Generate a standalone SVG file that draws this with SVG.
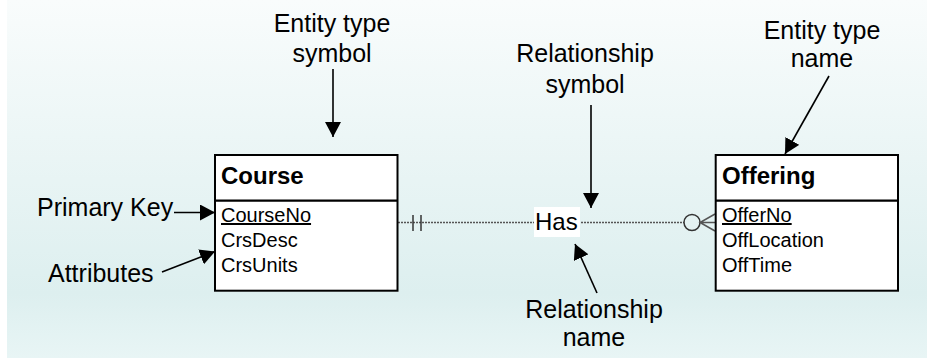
<svg xmlns="http://www.w3.org/2000/svg" width="927" height="358" viewBox="0 0 927 358">
<defs>
<linearGradient id="bg" x1="0" y1="0" x2="0" y2="1">
<stop offset="0" stop-color="#f9fcfc"/>
<stop offset="0.82" stop-color="#ddefef"/>
<stop offset="1" stop-color="#e8f5f5"/>
</linearGradient>
<marker id="ah" viewBox="0 0 16 16" refX="15" refY="8" markerWidth="16" markerHeight="16" markerUnits="userSpaceOnUse" orient="auto">
<path d="M0,0 L15,8 L0,16 Z" fill="#000"/>
</marker>
<style>
text{font-family:"Liberation Sans",Arial,sans-serif;fill:#000}
.lbl{font-size:25px;text-anchor:middle}
.ll{font-size:25px}
.has{font-size:24px}
.title{font-size:24px;font-weight:bold}
.attr{font-size:20px}
.box{fill:#fff;stroke:#000;stroke-width:2}
.div{stroke:#000;stroke-width:2.2}
.arr{stroke:#000;stroke-width:1.6;fill:none;marker-end:url(#ah)}
</style>
</defs>
<rect x="0" y="0" width="927" height="358" fill="#fff"/>
<rect x="7" y="0" width="920" height="358" fill="url(#bg)"/>

<g id="connectors">
<line x1="398" y1="222.5" x2="684" y2="222.5" stroke="#555" stroke-width="1.5" stroke-dasharray="2,1"/>
<line x1="413" y1="215" x2="413" y2="231" stroke="#333" stroke-width="1.5"/>
<line x1="421" y1="215" x2="421" y2="231" stroke="#333" stroke-width="1.5"/>
<circle cx="692" cy="222.5" r="8" fill="none" stroke="#333" stroke-width="1.5"/>
<path d="M715,214 L700,222.5 L715,231 M700,222.5 L715,222.5" fill="none" stroke="#555" stroke-width="1.5"/>
</g>

<g id="course">
<rect class="box" x="215" y="155" width="182.5" height="135.7"/>
<line class="div" x1="215" y1="200.7" x2="397.5" y2="200.7"/>
<text class="title" x="221" y="184">Course</text>
<text class="attr" x="221" y="222" text-decoration="underline">CourseNo</text>
<text class="attr" x="221" y="247">CrsDesc</text>
<text class="attr" x="221" y="272">CrsUnits</text>
</g>

<g id="offering">
<rect class="box" x="715.7" y="155" width="182.3" height="135.7"/>
<line class="div" x1="715.7" y1="200.7" x2="898" y2="200.7"/>
<text class="title" x="722" y="184">Offering</text>
<text class="attr" x="722" y="222" text-decoration="underline">OfferNo</text>
<text class="attr" x="722" y="247">OffLocation</text>
<text class="attr" x="722" y="272">OffTime</text>
</g>

<g id="has">
<rect x="534" y="207" width="46" height="30" fill="#fff"/>
<text class="has" x="535" y="230">Has</text>
</g>

<g id="label-entity-type-symbol">
<text class="lbl" x="332" y="31.5">Entity type</text>
<text class="lbl" x="332" y="61.5">symbol</text>
<line class="arr" x1="333" y1="69" x2="333" y2="137"/>
</g>

<g id="label-relationship-symbol">
<text class="lbl" x="585" y="62">Relationship</text>
<text class="lbl" x="585" y="93">symbol</text>
<line class="arr" x1="591" y1="105" x2="591" y2="208"/>
</g>

<g id="label-entity-type-name">
<text class="lbl" x="822" y="39">Entity type</text>
<text class="lbl" x="822" y="67">name</text>
<line class="arr" x1="829" y1="76" x2="785" y2="154"/>
</g>

<g id="label-relationship-name">
<text class="lbl" x="594" y="318">Relationship</text>
<text class="lbl" x="594" y="346">name</text>
<line class="arr" x1="597" y1="293" x2="575" y2="244"/>
</g>

<g id="label-primary-key">
<text class="ll" x="37" y="216">Primary Key</text>
<line class="arr" x1="174" y1="212.5" x2="215" y2="212.5"/>
</g>

<g id="label-attributes">
<text class="ll" x="48" y="282">Attributes</text>
<line class="arr" x1="162" y1="272" x2="215" y2="251.5"/>
</g>
</svg>
